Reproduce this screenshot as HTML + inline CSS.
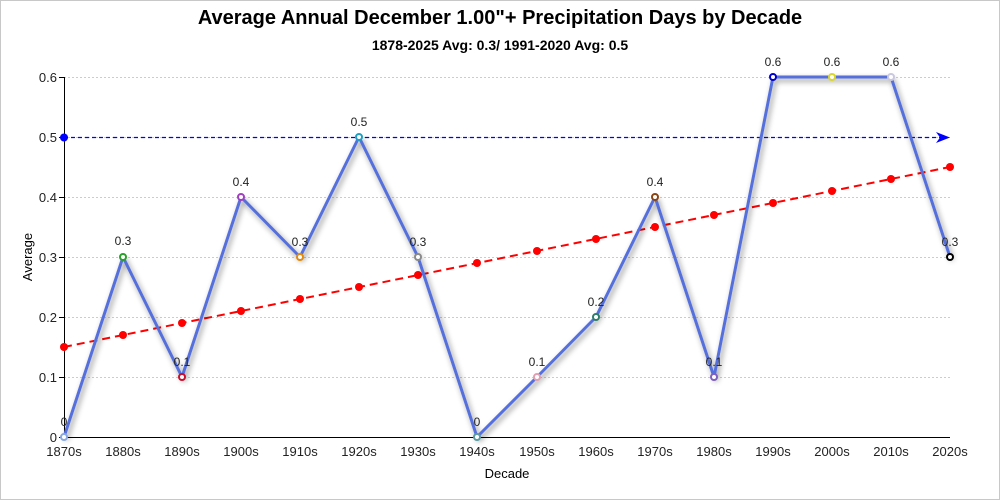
<!DOCTYPE html><html><head><style>body{margin:0;background:#fff}svg{display:block;font-family:"Liberation Sans",sans-serif}</style></head><body>
<svg width="1000" height="500" viewBox="0 0 1000 500">
<defs><filter id="sh" x="-10%" y="-10%" width="120%" height="120%"><feDropShadow dx="2" dy="3" stdDeviation="3" flood-color="#000" flood-opacity="0.45"/></filter></defs>
<rect x="0.5" y="0.5" width="999" height="499" fill="#fff" stroke="#c8c8c8"/>
<text x="500" y="24" text-anchor="middle" font-size="20" font-weight="bold">Average Annual December 1.00"+ Precipitation Days by Decade</text>
<text x="500" y="50" text-anchor="middle" font-size="14" font-weight="bold">1878-2025 Avg: 0.3/ 1991-2020 Avg: 0.5</text>
<g stroke="#ccc" stroke-dasharray="2,2" stroke-width="1">
<line x1="64" x2="950" y1="77.5" y2="77.5"/><line x1="64" x2="950" y1="137.5" y2="137.5"/><line x1="64" x2="950" y1="197.5" y2="197.5"/><line x1="64" x2="950" y1="257.5" y2="257.5"/><line x1="64" x2="950" y1="317.5" y2="317.5"/><line x1="64" x2="950" y1="377.5" y2="377.5"/></g>
<g stroke="#000"><line x1="64.5" y1="77" x2="64.5" y2="438"/><line x1="64" y1="437.5" x2="950" y2="437.5"/>
<line x1="59" x2="64" y1="77.5" y2="77.5"/><line x1="59" x2="64" y1="137.5" y2="137.5"/><line x1="59" x2="64" y1="197.5" y2="197.5"/><line x1="59" x2="64" y1="257.5" y2="257.5"/><line x1="59" x2="64" y1="317.5" y2="317.5"/><line x1="59" x2="64" y1="377.5" y2="377.5"/><line x1="59" x2="64" y1="437.5" y2="437.5"/></g>
<g font-size="13" text-anchor="end" fill="#222"><text x="57" y="82">0.6</text><text x="57" y="142">0.5</text><text x="57" y="202">0.4</text><text x="57" y="262">0.3</text><text x="57" y="322">0.2</text><text x="57" y="382">0.1</text><text x="57" y="442">0</text></g>
<g font-size="13" text-anchor="middle" fill="#222">
<text x="64" y="456">1870s</text><text x="123" y="456">1880s</text><text x="182" y="456">1890s</text><text x="241" y="456">1900s</text><text x="300" y="456">1910s</text><text x="359" y="456">1920s</text><text x="418" y="456">1930s</text><text x="477" y="456">1940s</text><text x="537" y="456">1950s</text><text x="596" y="456">1960s</text><text x="655" y="456">1970s</text><text x="714" y="456">1980s</text><text x="773" y="456">1990s</text><text x="832" y="456">2000s</text><text x="891" y="456">2010s</text><text x="950" y="456">2020s</text></g>
<text x="507" y="478" text-anchor="middle" font-size="13">Decade</text>
<text transform="translate(32,257) rotate(-90)" text-anchor="middle" font-size="13">Average</text>
<line x1="64" y1="137.5" x2="940" y2="137.5" stroke="#00f" stroke-width="1.2" stroke-dasharray="4,3"/>
<polygon points="936,132 950,137.5 936,143 940,137.5" fill="#00f"/>
<circle cx="64" cy="137.5" r="4" fill="#00f"/>
<line x1="64" y1="347" x2="950" y2="167" stroke="#f00" stroke-width="2" stroke-dasharray="8,5"/>
<g fill="#f00"><circle cx="64" cy="347" r="4"/><circle cx="123" cy="335" r="4"/><circle cx="182" cy="323" r="4"/><circle cx="241" cy="311" r="4"/><circle cx="300" cy="299" r="4"/><circle cx="359" cy="287" r="4"/><circle cx="418" cy="275" r="4"/><circle cx="477" cy="263" r="4"/><circle cx="537" cy="251" r="4"/><circle cx="596" cy="239" r="4"/><circle cx="655" cy="227" r="4"/><circle cx="714" cy="215" r="4"/><circle cx="773" cy="203" r="4"/><circle cx="832" cy="191" r="4"/><circle cx="891" cy="179" r="4"/><circle cx="950" cy="167" r="4"/></g>
<polyline filter="url(#sh)" fill="none" stroke="#5470dc" stroke-width="3" stroke-linejoin="round" points="64,437 123,257 182,377 241,197 300,257 359,137 418,257 477,437 537,377 596,317 655,197 714,377 773,77 832,77 891,77 950,257"/>
<g fill="#fff" stroke-width="2">
<circle cx="64" cy="437" r="3" stroke="#8aa8e0"/><circle cx="123" cy="257" r="3" stroke="#2aa02a"/><circle cx="182" cy="377" r="3" stroke="#c8102e"/><circle cx="241" cy="197" r="3" stroke="#a040c0"/><circle cx="300" cy="257" r="3" stroke="#e08a10"/><circle cx="359" cy="137" r="3" stroke="#20a0c0"/><circle cx="418" cy="257" r="3" stroke="#8a8a8a"/><circle cx="477" cy="437" r="3" stroke="#5a9aa0"/><circle cx="537" cy="377" r="3" stroke="#e0a0b0"/><circle cx="596" cy="317" r="3" stroke="#2e7d6b"/><circle cx="655" cy="197" r="3" stroke="#8b4513"/><circle cx="714" cy="377" r="3" stroke="#8060c0"/><circle cx="773" cy="77" r="3" stroke="#0000cc"/><circle cx="832" cy="77" r="3" stroke="#d8d830"/><circle cx="891" cy="77" r="3" stroke="#c8c8e0"/><circle cx="950" cy="257" r="3" stroke="#000"/></g>
<g font-size="12" text-anchor="middle" fill="#222">
<text x="64" y="426">0</text><text x="123" y="245">0.3</text><text x="182" y="366">0.1</text><text x="241" y="186">0.4</text><text x="300" y="246">0.3</text><text x="359" y="126">0.5</text><text x="418" y="246">0.3</text><text x="477" y="426">0</text><text x="537" y="366">0.1</text><text x="596" y="306">0.2</text><text x="655" y="186">0.4</text><text x="714" y="366">0.1</text><text x="773" y="66">0.6</text><text x="832" y="66">0.6</text><text x="891" y="66">0.6</text><text x="950" y="246">0.3</text></g>
</svg></body></html>
